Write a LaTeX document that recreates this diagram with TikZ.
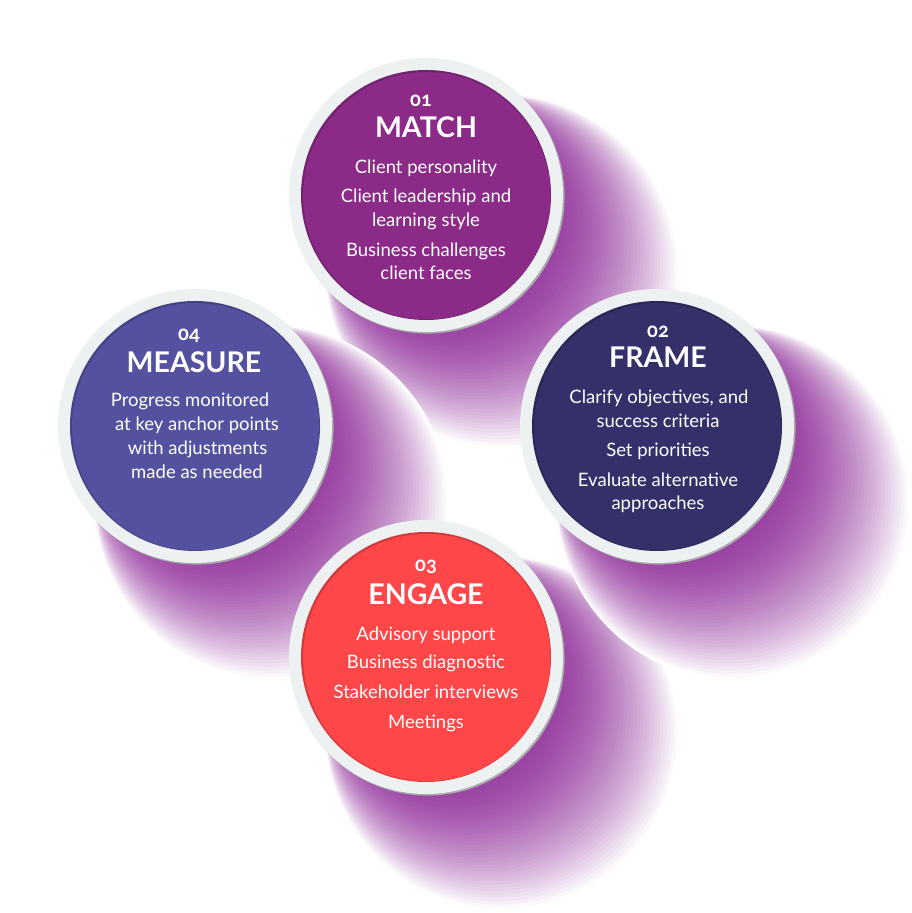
\documentclass[tikz,border=0pt]{standalone}
\usepackage{fontspec}
\usetikzlibrary{calc}
\newfontfamily\latofont{Lato}
\newfontfamily\latonum[Numbers=OldStyle]{Lato}
\definecolor{matchcol}{RGB}{139,42,135}
\definecolor{framecol}{RGB}{51,48,106}
\definecolor{measurecol}{RGB}{84,82,160}
\definecolor{engagecol}{RGB}{255,71,74}
\definecolor{ringcol}{HTML}{EDF1F2}
\definecolor{ringshade}{HTML}{A9ABAB}
\definecolor{shpurple}{RGB}{145,50,155}
\tikzset{
  bodytxt/.style={font=\latofont\fontsize{18.5}{21}\selectfont, text=white, anchor=base, inner sep=0pt},
  titletxt/.style={font=\latofont\bfseries\fontsize{28.5}{30}\selectfont, text=white, anchor=base, inner sep=0pt},
  numtxt/.style={font=\latonum\bfseries\fontsize{20}{22}\selectfont, text=white, anchor=base, inner sep=0pt},
  ringnode/.style={circle, minimum size=274pt, inner sep=0pt, fill=ringcol},
}
% blended long shadow: circles from a large white one (offset 109 down-right, r=177)
% to a smaller purple one hidden under the disc (r=95)
\newcommand\longshadow[2]{%
  \foreach \shi in {48,...,0}{
    \pgfmathsetmacro\shs{\shi/48}
    \pgfmathsetmacro\shu{1-\shs}
    \pgfmathsetmacro\shp{100*\shu*(1.9-0.9*\shu)}
    \pgfmathsetmacro\shx{#1+77.07*\shs}
    \pgfmathsetmacro\shy{#2-77.07*\shs}
    \pgfmathsetmacro\shr{95+82*\shs}
    \fill[shpurple!\shp!white] (\shx,\shy) circle[radius=\shr];
  }}
\newcommand\discfill[2]{%
  \fill[ringshade] ($(#1)+(1.6,-1.6)$) circle[radius=137];
  \node[ringnode] (#1ring) at (#1) {};
  \fill[#2!82!black] (#1) circle[radius=125];
  \fill[#2] ($(#1)+(0.7,-0.7)$) circle[radius=123.6];
}
\begin{document}
\begin{tikzpicture}[x=1pt,y=1pt]
\useasboundingbox (0,0) rectangle (912,913);
\fill[white] (0,0) rectangle (912,913);
\coordinate (match) at (426,718);
\coordinate (frame) at (657,487);
\coordinate (engage) at (426,256);
\coordinate (measure) at (195,487);
% long shadows
\longshadow{426}{718}
\longshadow{195}{487}
\longshadow{426}{256}
\longshadow{657}{487}
% discs
\discfill{match}{matchcol}
\discfill{frame}{framecol}
\discfill{engage}{engagecol}
\discfill{measure}{measurecol}
% texts: MATCH
\node[numtxt] (n1) at (421,806) {01};
\node[titletxt] (t1) at (426,775) {MATCH};
\node[bodytxt] (m1) at (426,739) {Client personality};
\node[bodytxt] (m2) at (426,710) {Client leadership and};
\node[bodytxt] (m3) at (426,686) {learning style};
\node[bodytxt] (m4) at (426,656) {Business challenges};
\node[bodytxt] (m5) at (426,633) {client faces};
% FRAME
\node[numtxt] (n2) at (658,575) {02};
\node[titletxt] (t2) at (658,545) {FRAME};
\node[bodytxt] (f1) at (659,509) {Clarify objectives, and};
\node[bodytxt] (f2) at (658,485) {success criteria};
\node[bodytxt] (f3) at (658,456) {Set priorities};
\node[bodytxt] (f4) at (658,426) {Evaluate alternative};
\node[bodytxt] (f5) at (658,403) {approaches};
% ENGAGE
\node[numtxt] (n3) at (426,341) {03};
\node[titletxt] (t3) at (426,308) {ENGAGE};
\node[bodytxt] (e1) at (426,272) {Advisory support};
\node[bodytxt] (e2) at (426,244) {Business diagnostic};
\node[bodytxt] (e3) at (426,214) {Stakeholder interviews};
\node[bodytxt] (e4) at (426,184) {Meetings};
% MEASURE
\node[numtxt] (n4) at (189,572) {04};
\node[titletxt] (t4) at (194,540) {MEASURE};
\node[bodytxt] (s1) at (190,506) {Progress monitored};
\node[bodytxt] (s2) at (197,482) {at key anchor points};
\node[bodytxt] (s3) at (197.5,458) {with adjustments};
\node[bodytxt] (s4) at (197,434) {made as needed};
\end{tikzpicture}
\end{document}
